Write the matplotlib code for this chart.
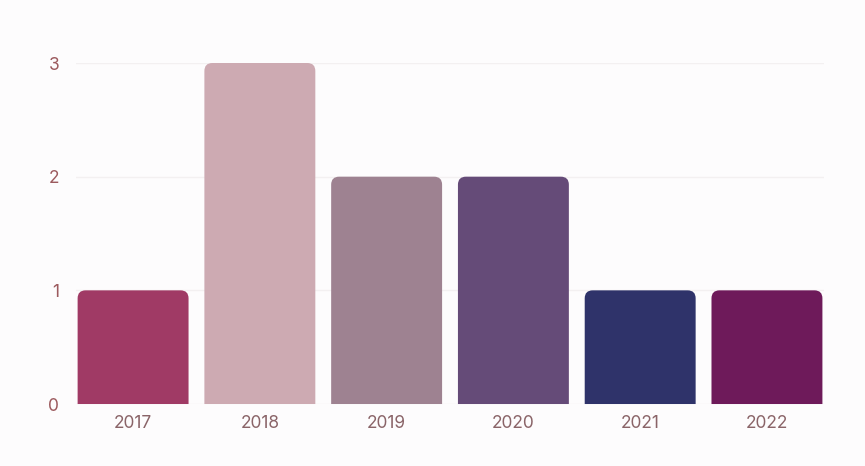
import matplotlib
matplotlib.use("Agg")
import matplotlib.pyplot as plt
from matplotlib.path import Path
from matplotlib.patches import PathPatch

years = ["2017", "2018", "2019", "2020", "2021", "2022"]
counts = [1, 3, 2, 2, 1, 1]
colors = ["#a03a65", "#cdaab2", "#9e8291", "#654b78", "#2f336a", "#6e1a5a"]

plt.rcParams['font.family'] = ['Inter', 'DejaVu Sans']

fig = plt.figure(figsize=(8.65, 4.66), dpi=100, facecolor="#fdfcfd")
ax = fig.add_axes([0.0879, 0.133, 0.8647, 0.7318])
ax.set_facecolor("#fdfcfd")

x = list(range(len(years)))
bars = ax.bar(x, counts, width=0.875, color=colors, zorder=2)
ax.set_xlim(-0.45, len(years) - 0.55)
ax.set_ylim(0, 3)

# swap the plain rectangles for ones with rounded top corners
fig.canvas.draw()
sx = ax.bbox.width / (ax.get_xlim()[1] - ax.get_xlim()[0])
sy = ax.bbox.height / (ax.get_ylim()[1] - ax.get_ylim()[0])
rpx = 8
rx, ry = rpx / sx, rpx / sy
for b in bars:
    x0, w, h = b.get_x(), b.get_width(), b.get_height()
    x1 = x0 + w
    verts = [(x0, 0), (x0, h - ry), (x0, h), (x0 + rx, h),
             (x1 - rx, h), (x1, h), (x1, h - ry), (x1, 0), (x0, 0)]
    codes = [Path.MOVETO, Path.LINETO, Path.CURVE3, Path.CURVE3,
             Path.LINETO, Path.CURVE3, Path.CURVE3, Path.LINETO, Path.CLOSEPOLY]
    p = PathPatch(Path(verts, codes), facecolor=b.get_facecolor(),
                  edgecolor="none", zorder=2, clip_on=False)
    ax.add_patch(p)
    b.remove()

ax.set_yticks([0, 1, 2, 3])
ax.set_xticks(x)
ax.set_xticklabels(years)
ax.grid(axis="y", color="#f3f0f1", linewidth=1, zorder=0)
ax.set_axisbelow(True)
for s in ax.spines.values():
    s.set_visible(False)
ax.tick_params(axis="both", length=0, labelsize=12.5)
ax.tick_params(axis="y", pad=12, labelcolor="#9c5a5e")
ax.tick_params(axis="x", pad=8, labelcolor="#8a6468")

fig.savefig("out.png", dpi=100, facecolor=fig.get_facecolor())
